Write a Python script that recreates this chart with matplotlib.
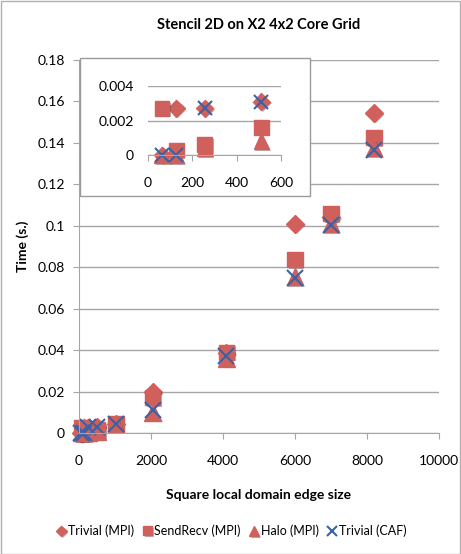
import matplotlib.pyplot as plt
import matplotlib.patheffects as pe
from matplotlib.patches import Rectangle
from matplotlib.ticker import FuncFormatter

plt.rcParams['font.family'] = ['Lato', 'DejaVu Sans']

# edge sizes and timings (seconds)
edge = [64, 128, 256, 512, 1024, 2048, 4096, 6000, 7000, 8192]
trivial_mpi = [0.0000, 0.0027, 0.0027, 0.0031, 0.0045, 0.0198, 0.0385, 0.1010, 0.1040, 0.1545]
sendrecv_mpi = [0.0027, 0.0003, 0.0006, 0.0016, 0.0046, 0.0172, 0.0390, 0.0837, 0.1060, 0.1426]
halo_mpi = [0.0000, 0.0000, 0.0004, 0.0008, 0.0043, 0.0100, 0.0360, 0.0755, 0.1010, 0.1375]
trivial_caf = [0.0000, 0.0000, 0.0027, 0.0031, 0.0045, 0.0110, 0.0370, 0.0746, 0.1005, 0.1365]

labels = ['Trivial (MPI)', 'SendRecv (MPI)', 'Halo (MPI)', 'Trivial (CAF)']
red = '#D0605B'
blue = '#3A62A6'
grid_c = '#A6A6A6'

shadow = [pe.SimplePatchShadow(offset=(1.2, -1.2), alpha=0.35), pe.Normal()]


def draw(ax, xmax=None, s=1.0):
    # markers are not clipped (Excel style), so drop points outside the x range
    idx = [i for i, v in enumerate(edge) if xmax is None or v <= xmax]
    xs = [edge[i] for i in idx]
    sel = lambda ys: [ys[i] for i in idx]
    kw = dict(clip_on=False, ls='none')
    ax.plot(xs, sel(trivial_mpi), 'D', color=red, ms=9 * s, mec=red, label=labels[0], path_effects=shadow, **kw)
    ax.plot(xs, sel(sendrecv_mpi), 's', color=red, ms=11 * s, mec=red, label=labels[1], path_effects=shadow, **kw)
    ax.plot(xs, sel(halo_mpi), '^', color=red, ms=12 * s, mec=red, label=labels[2], path_effects=shadow, **kw)
    ax.plot(xs, sel(trivial_caf), 'x', color=blue, ms=11 * s, mew=1.5, label=labels[3], **kw)


def style(ax):
    ax.set_facecolor('white')
    ax.grid(axis='y', color=grid_c, lw=1)
    ax.set_axisbelow(True)
    for sp in ['top', 'right']:
        ax.spines[sp].set_visible(False)
    ax.spines['left'].set_color(grid_c)
    ax.spines['bottom'].set_color(grid_c)
    ax.tick_params(colors=grid_c, labelcolor='black', labelsize=10, length=4)


fmt = FuncFormatter(lambda v, p: '%g' % round(v, 4))

fig = plt.figure(figsize=(4.61, 5.54), dpi=100)
W, H = 461, 554
fig.patches.append(Rectangle((0.5 / W, 0.5 / H), 1 - 1.5 / W, 1 - 1.5 / H, transform=fig.transFigure,
                             fill=False, ec='#B0B0B0', lw=1))

ax = fig.add_axes([79 / W, 1 - 433 / H, 360 / W, 373 / H])
draw(ax)
style(ax)
ax.set_xlim(0, 10000)
ax.set_ylim(0, 0.18)
ax.set_xticks(range(0, 10001, 2000))
ax.set_yticks([i * 0.02 for i in range(10)])
ax.yaxis.set_major_formatter(fmt)
ax.tick_params(axis='x', pad=12)
ax.tick_params(axis='y', pad=6)
ax.set_xlabel('Square local domain edge size', fontweight='bold', fontsize=10, labelpad=16)
ax.set_ylabel('Time (s.)', fontweight='bold', fontsize=10, labelpad=6)
ax.set_title('Stencil 2D on X2 4x2 Core Grid', fontweight='bold', fontsize=10.5, pad=22)

# inset box
fig.patches.append(Rectangle((80 / W, 1 - 196 / H), 230 / W, 138 / H, transform=fig.transFigure,
                             fc='white', ec='#9A9A9A', lw=1, zorder=5))
axi = fig.add_axes([148 / W, 1 - 155 / H, 133 / W, 69 / H], zorder=6)
draw(axi, xmax=600, s=0.95)
style(axi)
axi.spines['left'].set_visible(False)
axi.set_xlim(0, 600)
axi.set_ylim(0, 0.004)
axi.set_xticks([0, 200, 400, 600])
axi.set_yticks([0, 0.002, 0.004])
axi.yaxis.set_major_formatter(fmt)
axi.tick_params(axis='y', length=0, pad=10)
axi.tick_params(axis='x', pad=12)

handles, labs = ax.get_legend_handles_labels()
fig.legend(handles, labs, loc='center', bbox_to_anchor=(0.5, 1 - 531 / H), ncol=4, frameon=False,
           fontsize=9, handletextpad=0.0, columnspacing=0.5, handlelength=1.1, markerscale=0.6)

fig.savefig('out.png', dpi=100)
